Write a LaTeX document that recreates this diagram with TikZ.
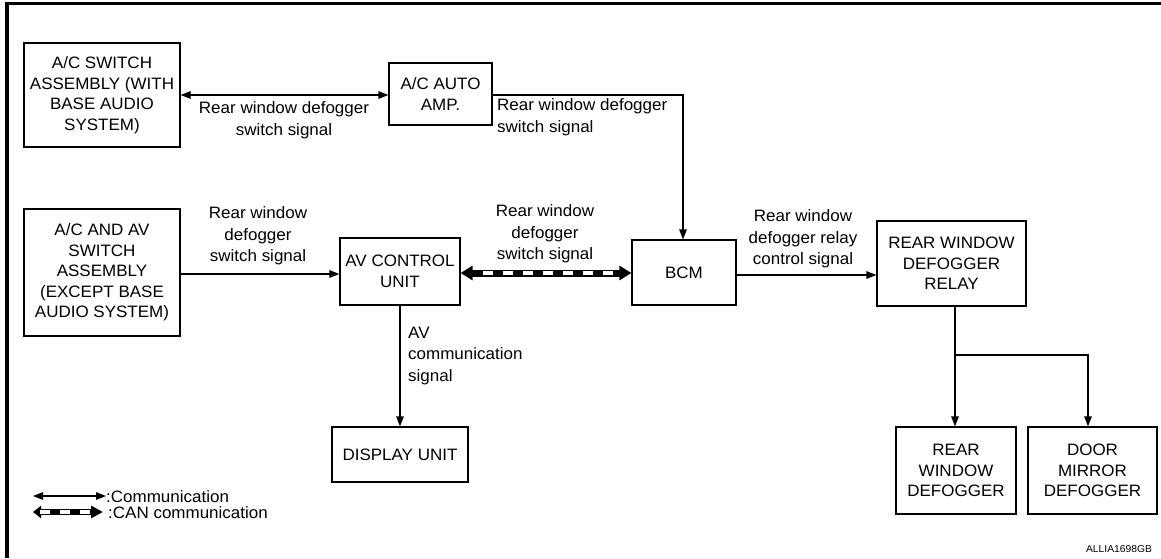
\documentclass[tikz,border=0pt]{standalone}
\usepackage{fontspec}
\setmainfont[FakeStretch=1.03]{Liberation Sans}
\usetikzlibrary{arrows.meta}
\tikzset{
  box/.style={draw, line width=1.2pt, align=center, inner sep=0pt, font=\fontsize{16.5}{20.5}\selectfont},
  lbl/.style={align=center, inner sep=0pt, font=\fontsize{16.5}{21.5}\selectfont},
  lbll/.style={align=left, inner sep=0pt, font=\fontsize{16.5}{21.5}\selectfont},
  sig/.style={line width=1.2pt, -{Triangle[length=10pt,width=7.5pt]}},
  sigb/.style={line width=1.2pt, {Triangle[length=10pt,width=7.5pt]}-{Triangle[length=10pt,width=7.5pt]}},
  plain/.style={line width=1.2pt},
  canbase/.style={line width=7pt, {Triangle[length=12pt,width=14pt]}-{Triangle[length=12pt,width=14pt]}},
  candash/.style={draw=white, line width=4pt, dash pattern=on 10pt off 10pt, dash phase=10pt, shorten <=12pt, shorten >=12pt},
}
\begin{document}
\begin{tikzpicture}[x=1pt,y=-1pt]
\useasboundingbox (0,0) rectangle (1161,558);
% frame
\draw[line width=3.5pt] (5,3.5) -- (1161,3.5);
\draw[line width=4pt] (7,2) -- (7,558);

% boxes
\node[box, minimum width=156pt, minimum height=104pt] (swA) at (102,95)
  {A/C SWITCH\\ASSEMBLY (WITH\\BASE AUDIO\\SYSTEM)};
\node[box, minimum width=103pt, minimum height=62pt] (amp) at (440.5,94)
  {A/C AUTO\\AMP.};
\node[box, minimum width=156pt, minimum height=127pt] (swB) at (102,272.5)
  {A/C AND AV\\SWITCH\\ASSEMBLY\\(EXCEPT BASE\\AUDIO SYSTEM)};
\node[box, minimum width=120pt, minimum height=67pt] (avc) at (400,271.5)
  {AV CONTROL\\UNIT};
\node[box, minimum width=104pt, minimum height=65pt] (bcm) at (684,272.5)
  {BCM};
\node[box, minimum width=149pt, minimum height=85pt] (relay) at (951.5,263.5)
  {REAR WINDOW\\DEFOGGER\\RELAY};
\node[box, minimum width=136pt, minimum height=55pt] (disp) at (400,454.5)
  {DISPLAY UNIT};
\node[box, minimum width=120pt, minimum height=87pt] (rwd) at (956,470.5)
  {REAR\\WINDOW\\DEFOGGER};
\node[box, minimum width=129pt, minimum height=87pt] (dmd) at (1092.5,470.5)
  {DOOR\\MIRROR\\DEFOGGER};

% connectors
\draw[sigb] (swA.east |- 0,95) -- (amp.west |- 0,95);
\coordinate (ampc) at (683,95);
\draw[sig] (amp.east |- ampc) -- (ampc) -- (bcm.north -| ampc);
\draw[sig] (swB.east |- 0,274) -- (avc.west |- 0,274);
\draw[canbase] (avc.east |- 0,273) -- (bcm.west |- 0,273);
\draw[candash] (avc.east |- 0,273) -- (bcm.west |- 0,273);
\draw[sig] (bcm.east |- 0,275) -- (relay.west |- 0,275);
\draw[sig] (avc.south) -- (disp.north);
\coordinate (split) at (955,355);
\coordinate (splitr) at (1088,355);
\draw[plain] (relay.south -| split) -- (split);
\draw[sig] (split) -- (rwd.north -| split);
\draw[sig] (split) -- (splitr) -- (dmd.north -| splitr);

% labels
\node[lbl] (l1) at (284,120) {Rear window defogger\\switch signal};
\node[lbll, anchor=west] (l2) at (497,117) {Rear window defogger\\switch signal};
\node[lbl] (l3) at (258,236) {Rear window\\defogger\\switch signal};
\node[lbl] (l4) at (545,234) {Rear window\\defogger\\switch signal};
\node[lbl] (l5) at (803,239) {Rear window\\defogger relay\\control signal};
\node[lbll, anchor=west] (l6) at (408,356) {AV\\communication\\signal};

% legend
\coordinate (lga) at (33,496);
\coordinate (lgb) at (106,496);
\draw[sigb] (lga) -- (lgb);
\node[lbll, anchor=west] (lgt1) at (106,497) {:Communication};
\coordinate (lgc) at (33,512);
\coordinate (lgd) at (103,512);
\draw[line width=6pt, {Triangle[length=8pt,width=12pt]}-{Triangle[length=12pt,width=12pt]}] (lgc) -- (lgd);
\draw[draw=white, line width=3.5pt, dash pattern=on 10pt off 10pt, shorten <=7pt, shorten >=12pt] (lgc) -- (lgd);
\node[lbll, anchor=west] (lgt2) at (108,513) {:CAN communication};

\node[inner sep=0pt, font=\fontsize{10}{12}\selectfont] (code) at (1119,549) {ALLIA1698GB};
\end{tikzpicture}
\end{document}
